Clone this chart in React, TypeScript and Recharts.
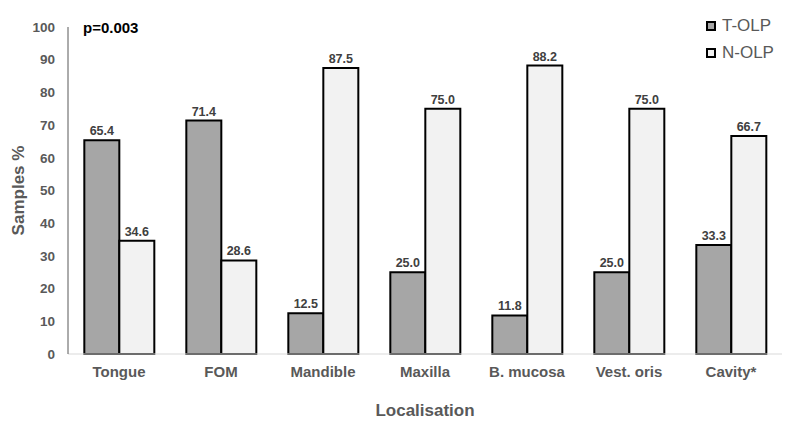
import React from 'react';
import { BarChart, Bar, XAxis, YAxis, LabelList, ReferenceLine } from 'recharts';

const categories = ['Tongue', 'FOM', 'Mandible', 'Maxilla', 'B. mucosa', 'Vest. oris', 'Cavity*'];
const tOlp = [65.4, 71.4, 12.5, 25.0, 11.8, 25.0, 33.3];
const nOlp = [34.6, 28.6, 87.5, 75.0, 88.2, 75.0, 66.7];
const yTicks = [0, 10, 20, 30, 40, 50, 60, 70, 80, 90, 100];

const data = categories.map((name, i) => ({ name, tOlp: tOlp[i], nOlp: nOlp[i] }));

const FONT = '"Liberation Sans", Arial, sans-serif';

const legendItems = [
  { label: 'T-OLP', fill: '#a6a6a6' },
  { label: 'N-OLP', fill: '#f2f2f2' },
];

const LegendBox = () => (
  <div
    style={{
      position: 'absolute',
      left: 706,
      top: 12,
      fontFamily: FONT,
      fontSize: 17,
      color: '#595959',
      lineHeight: '27px',
    }}
  >
    {legendItems.map((it) => (
      <div key={it.label} style={{ display: 'flex', alignItems: 'center' }}>
        <span
          style={{
            width: 6,
            height: 6,
            background: it.fill,
            border: '2px solid #000',
            marginRight: 6,
            display: 'inline-block',
          }}
        />
        {it.label}
      </div>
    ))}
  </div>
);

export default function App() {
  return (
    <div style={{ position: 'absolute', left: 0, top: 0, width: 787, height: 432, background: '#fff' }}>
      <BarChart
        width={787}
        height={432}
        data={data}
        margin={{ top: 27, right: 5, left: 8, bottom: 8 }}
        barCategoryGap="16%"
        barGap={0}
      >
        <XAxis
          dataKey="name"
          axisLine={false}
          tickLine={false}
          tickSize={0}
          tickMargin={12}
          height={70}
          tick={{ fontFamily: FONT, fontSize: 15, fontWeight: 'bold', fill: '#595959' }}
          label={{
            value: 'Localisation',
            position: 'insideBottom',
            offset: 8,
            style: { fontFamily: FONT, fontSize: 17, fontWeight: 'bold', fill: '#595959' },
          }}
        />
        <YAxis
          domain={[0, 100]}
          ticks={yTicks}
          interval={0}
          width={60}
          tickLine={false}
          tickSize={0}
          tickMargin={13}
          axisLine={{ stroke: '#595959', strokeWidth: 1 }}
          tick={{ fontFamily: FONT, fontSize: 13.5, fontWeight: 'bold', fill: '#595959' }}
          label={{
            value: 'Samples %',
            angle: -90,
            position: 'insideLeft',
            offset: 10,
            style: { fontFamily: FONT, fontSize: 17, fontWeight: 'bold', fill: '#595959', textAnchor: 'middle' },
          }}
        />
        <ReferenceLine y={0} stroke="#d9d9d9" strokeWidth={1} />
        <Bar dataKey="tOlp" name="T-OLP" fill="#a6a6a6" stroke="#000" strokeWidth={2} isAnimationActive={false}>
          <LabelList
            dataKey="tOlp"
            position="top"
            formatter={(v: number) => v.toFixed(1)}
            style={{ fontFamily: FONT, fontSize: 12.5, fontWeight: 'bold', fill: '#404040' }}
          />
        </Bar>
        <Bar dataKey="nOlp" name="N-OLP" fill="#f2f2f2" stroke="#000" strokeWidth={2} isAnimationActive={false}>
          <LabelList
            dataKey="nOlp"
            position="top"
            formatter={(v: number) => v.toFixed(1)}
            style={{ fontFamily: FONT, fontSize: 12.5, fontWeight: 'bold', fill: '#404040' }}
          />
        </Bar>
        <text x={83} y={33} fontFamily={FONT} fontSize={15} fontWeight="bold" fill="#000">
          p=0.003
        </text>
      </BarChart>
      <LegendBox />
    </div>
  );
}
